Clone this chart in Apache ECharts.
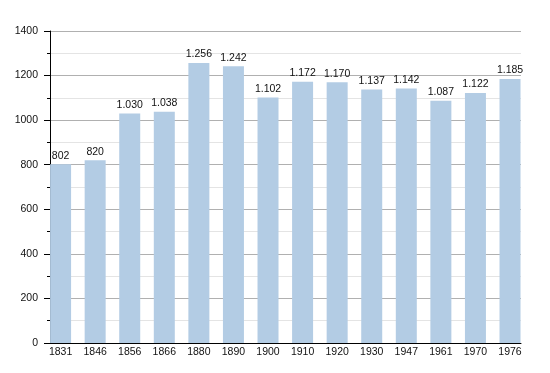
<!DOCTYPE html>
<html><head><meta charset="utf-8">
<script src="https://cdn.jsdelivr.net/npm/echarts@6/dist/echarts.min.js"></script>
<style>html,body{margin:0;padding:0;background:#fff}#c{width:550px;height:373px}</style>
</head><body><div id="c"></div>
<script>
var years = ['1831','1846','1856','1866','1880','1890','1900','1910','1920','1930','1947','1961','1970','1976'];
var population = [802,820,1030,1038,1256,1242,1102,1172,1170,1137,1142,1087,1122,1185];
var yTicks = [0,200,400,600,800,1000,1200,1400];

function fmt(v){ var s=String(v); return s.length>3 ? s.slice(0,s.length-3)+'.'+s.slice(s.length-3) : s; }

var chart = echarts.init(document.getElementById('c'), null, {renderer:'canvas'});
chart.setOption({
  animation:false,
  textStyle:{fontFamily:'Liberation Sans, Arial, sans-serif'},
  grid:[
    {left:50, top:31, width:471, bottom:30, containLabel:false},
    {left:43.3, top:31, width:484, bottom:30, containLabel:false}
  ],
  xAxis:[{
    gridIndex:0, type:'value', min:0, max:1,
    axisLine:{show:true, lineStyle:{color:'#000', width:1}},
    axisTick:{show:false}, splitLine:{show:false}, axisLabel:{show:false}
  },{
    gridIndex:1, type:'category', data:years, boundaryGap:true,
    axisLine:{show:false}, axisTick:{show:false}, splitLine:{show:false},
    axisLabel:{show:true, interval:0, margin:4, fontSize:10.5, color:'#111'}
  }],
  yAxis:[{
    gridIndex:0, type:'value', min:yTicks[0], max:yTicks[yTicks.length-1], interval:200,
    axisLine:{show:true, lineStyle:{color:'#000', width:1}},
    axisTick:{show:true, length:6, lineStyle:{color:'#000'}},
    minorTick:{show:true, splitNumber:2, length:3, lineStyle:{color:'#000'}},
    splitLine:{show:true, lineStyle:{color:'#b0b0b0', width:1}},
    minorSplitLine:{show:true, lineStyle:{color:'#e4e4e4', width:1}},
    axisLabel:{margin:12, fontSize:10.5, color:'#111', formatter:function(v){ return String(v); }}
  },{
    gridIndex:1, type:'value', min:yTicks[0], max:yTicks[yTicks.length-1], interval:200, show:false,
    splitLine:{show:false}
  }],
  series:[{
    type:'bar', xAxisIndex:1, yAxisIndex:1, barWidth:21,
    data: population,
    itemStyle:{color:'#b3cce4'},
    label:{show:true, position:'top', distance:3, fontSize:10.5, color:'#111',
      formatter:function(p){ return fmt(p.value); }}
  }]
});
</script></body></html>
